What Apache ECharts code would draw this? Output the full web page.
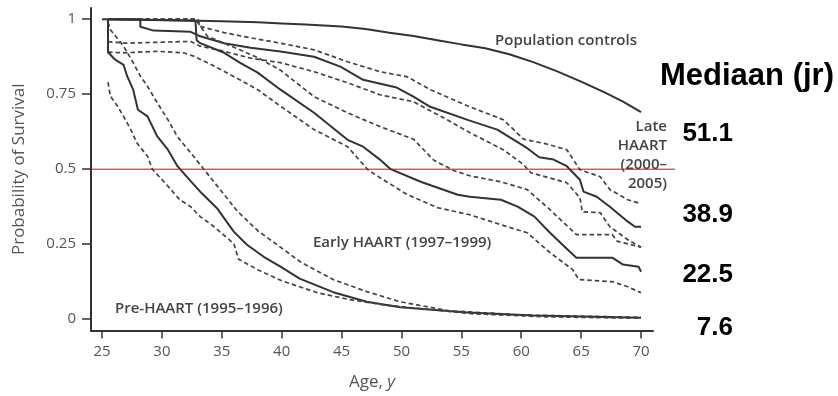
<!DOCTYPE html>
<html>
<head>
<meta charset="utf-8">
<script src="https://cdn.jsdelivr.net/npm/echarts@6/dist/echarts.min.js"></script>
<style>
html,body{margin:0;padding:0;background:#fff;}
#chart{width:838px;height:396px;}
</style>
</head>
<body>
<div id="chart"></div>
<script>
// ---- data (age in years, probability of survival) ----
const ageTicks = [25, 30, 35, 40, 45, 50, 55, 60, 65, 70];
const probTicks = [0, 0.25, 0.5, 0.75, 1];
const refLevel = 0.5;

const popControls = [[25,1.0],[30,0.997],[35,0.993],[38,0.99],[40,0.986],[42,0.982],[45,0.976],[47,0.967],[49,0.955],[51,0.944],[53,0.93],[55,0.916],[57,0.903],[59,0.883],[61,0.857],[63,0.826],[65,0.792],[67,0.755],[68.5,0.725],[70,0.69]];

const lateSolid = [[25.5,1.0],[28.2,1.0],[28.2,0.975],[29.3,0.962],[32.4,0.958],[33.2,0.943],[35.2,0.92],[37.4,0.905],[39.9,0.892],[42.7,0.875],[44.9,0.842],[46.8,0.798],[49.6,0.772],[51,0.742],[52.4,0.708],[55.7,0.662],[58,0.632],[60.5,0.57],[61.5,0.54],[62.7,0.532],[63.8,0.51],[64.9,0.465],[65.2,0.425],[66.3,0.408],[67.4,0.375],[68.9,0.325],[69.5,0.308],[70,0.308]];
const lateUpper = [[25.5,1.0],[33,1.0],[33.2,0.976],[35.2,0.955],[37.4,0.938],[39.9,0.92],[42.7,0.898],[45.5,0.858],[48.2,0.825],[50.5,0.808],[52.4,0.765],[55.7,0.708],[58.5,0.665],[60.2,0.6],[62,0.585],[63.8,0.565],[64.9,0.498],[66.6,0.475],[67.4,0.432],[68.9,0.398],[70,0.385]];
const lateLower = [[25.5,0.925],[27,0.92],[32.4,0.926],[33.2,0.91],[35.2,0.893],[37.4,0.87],[39.9,0.855],[42.7,0.825],[45.5,0.788],[48.2,0.748],[51,0.725],[53.8,0.665],[55.7,0.622],[58.5,0.565],[60.2,0.515],[60.8,0.488],[63.8,0.455],[64.9,0.405],[65.1,0.358],[66.6,0.355],[67.4,0.308],[68.9,0.265],[70,0.24]];

const earlySolid = [[25.5,1.0],[32.8,0.995],[32.9,0.93],[33.2,0.92],[35.2,0.888],[36.5,0.855],[38,0.822],[39.9,0.765],[42.7,0.688],[45.5,0.598],[46.8,0.575],[48.2,0.532],[49.1,0.5],[51.6,0.458],[54.7,0.415],[55.7,0.408],[58.3,0.398],[59.7,0.375],[61.1,0.342],[62.4,0.288],[63.6,0.242],[64.6,0.205],[67.6,0.205],[68.5,0.182],[69.8,0.175],[70,0.158]];
const earlyUpper = [[25.5,1.0],[32.8,1.0],[33.8,0.943],[35.2,0.92],[36.5,0.898],[38,0.872],[39.9,0.83],[42.7,0.742],[45.5,0.688],[48.2,0.642],[51,0.6],[52.7,0.53],[54.4,0.495],[55.7,0.478],[58.3,0.458],[60.5,0.432],[62.4,0.365],[64.6,0.282],[67.6,0.282],[68,0.26],[70,0.24]];
const earlyLower = [[25.5,0.89],[26.8,0.888],[29.6,0.893],[31.8,0.888],[32.7,0.876],[33.8,0.855],[35.2,0.826],[36.5,0.798],[38,0.765],[39.9,0.71],[42.7,0.632],[45.5,0.575],[47.2,0.498],[48.2,0.472],[50.5,0.415],[53,0.372],[55.7,0.348],[58.3,0.315],[60.5,0.288],[62.4,0.222],[64.3,0.165],[64.8,0.132],[67.6,0.125],[68.9,0.108],[70,0.088]];

const preSolid = [[25.5,1.0],[25.5,0.89],[26.1,0.865],[26.8,0.848],[27.1,0.81],[27.6,0.765],[28,0.698],[28.8,0.676],[29.6,0.61],[30.5,0.565],[31.3,0.51],[32.4,0.46],[33.2,0.425],[34.6,0.37],[35.4,0.325],[36,0.292],[37.1,0.248],[38.5,0.208],[39.9,0.175],[41.5,0.135],[44.3,0.09],[47.1,0.058],[49.9,0.04],[55.5,0.022],[61,0.012],[70,0.005]];
const preUpper = [[25.5,0.99],[25.7,0.965],[26.8,0.91],[27.6,0.855],[28.2,0.81],[28.8,0.776],[29.6,0.722],[30.5,0.665],[31.3,0.608],[32.4,0.555],[33.5,0.5],[34.9,0.43],[36.3,0.36],[38,0.295],[39.9,0.24],[41.6,0.19],[44.3,0.132],[47.1,0.092],[49.9,0.058],[54,0.028],[60,0.014],[70,0.006]];
const preLower = [[25.5,0.79],[25.7,0.743],[26.3,0.71],[26.8,0.676],[27.4,0.632],[27.9,0.588],[28.8,0.543],[29.2,0.5],[30.4,0.448],[31.5,0.398],[32.4,0.375],[33.2,0.342],[34.3,0.31],[36,0.252],[36.4,0.2],[38,0.165],[40,0.128],[43,0.088],[45.7,0.065],[48.5,0.048],[51.6,0.035],[56,0.018],[62,0.008],[70,0.003]];

const medianTitle = 'Mediaan (jr)';
const medianValues = ['51.1', '38.9', '22.5', '7.6'];

// ---- chart ----
const chart = echarts.init(document.getElementById('chart'), null, {renderer: 'canvas'});
const FONT = '"Open Sans", "DejaVu Sans", sans-serif';
const solidStyle = {color: '#333', width: 2, type: 'solid'};
const dashStyle = {color: '#444', width: 1.7, type: [4.5, 3]};

function curve(data, style) {
  return {type: 'line', xAxisIndex: 0, yAxisIndex: 0, data: data, showSymbol: false,
          symbol: 'none', lineStyle: style, silent: true, z: 2};
}

const annoText = (x, y, text, align) => ({
  type: 'text', x: x, y: y,
  style: {text: text, fill: '#444', font: '600 15px "Open Sans", sans-serif',
          textAlign: align || 'left', textVerticalAlign: 'middle'}
});
const bigText = (x, y, text, size, align) => ({
  type: 'text', x: x, y: y,
  style: {text: text, fill: '#000', font: 'bold ' + size + 'px "Liberation Sans", Arial, sans-serif',
          textAlign: align, textVerticalAlign: 'middle'}
});

chart.setOption({
  animation: false,
  backgroundColor: '#fff',
  grid: [
    {left: 91, top: 8, width: 562, height: 322.5, containLabel: false},
    {left: 91, top: 8, width: 584, height: 322.5, containLabel: false}
  ],
  xAxis: [
    {type: 'value', gridIndex: 0, min: 24.08, max: 71.0,
     name: 'Age, {i|y}', nameLocation: 'middle', nameGap: 43,
     nameTextStyle: {color: '#555', fontFamily: FONT, fontSize: 17,
       rich: {i: {fontStyle: 'italic', color: '#555', fontFamily: FONT, fontSize: 17}}},
     axisLine: {show: true, onZero: false, lineStyle: {color: '#333', width: 2}},
     axisTick: {show: true, length: 8, lineStyle: {color: '#333', width: 1.5}, customValues: ageTicks},
     axisLabel: {color: '#555', fontFamily: FONT, fontSize: 15, margin: 14, customValues: ageTicks},
     splitLine: {show: false}},
    {type: 'value', gridIndex: 1, min: 0, max: 1, show: false}
  ],
  yAxis: [
    {type: 'value', gridIndex: 0, min: -0.0377, max: 1.0373,
     name: 'Probability of Survival', nameLocation: 'middle', nameRotate: 90, nameGap: 63,
     nameTextStyle: {color: '#555', fontFamily: FONT, fontSize: 17},
     axisLine: {show: true, onZero: false, lineStyle: {color: '#333', width: 2}},
     axisTick: {show: true, length: 9, lineStyle: {color: '#333', width: 1.5}, customValues: probTicks},
     axisLabel: {color: '#555', fontFamily: FONT, fontSize: 15, margin: 15, customValues: probTicks,
                 formatter: v => String(v)},
     splitLine: {show: false}},
    {type: 'value', gridIndex: 1, min: -0.0377, max: 1.0373, show: false}
  ],
  series: [
    curve(popControls, solidStyle),
    curve(lateUpper, dashStyle), curve(lateSolid, solidStyle), curve(lateLower, dashStyle),
    curve(earlyUpper, dashStyle), curve(earlySolid, solidStyle), curve(earlyLower, dashStyle),
    curve(preUpper, dashStyle), curve(preSolid, solidStyle), curve(preLower, dashStyle),
    {type: 'line', xAxisIndex: 1, yAxisIndex: 1, data: [[0, refLevel], [1, refLevel]],
     showSymbol: false, symbol: 'none', silent: true, z: 5,
     lineStyle: {color: '#a8191b', width: 1}}
  ],
  graphic: [
    annoText(566, 41, 'Population controls', 'center'),
    annoText(667, 127, 'Late', 'right'),
    annoText(667, 146, 'HAART', 'right'),
    annoText(667, 165, '(2000–', 'right'),
    annoText(667, 184, '2005)', 'right'),
    annoText(313, 243, 'Early HAART (1997–1999)', 'left'),
    annoText(115, 309, 'Pre-HAART (1995–1996)', 'left'),
    bigText(660, 76, medianTitle, 31, 'left'),
    bigText(733, 134, medianValues[0], 26, 'right'),
    bigText(733, 215, medianValues[1], 26, 'right'),
    bigText(733, 275, medianValues[2], 26, 'right'),
    bigText(733, 328, medianValues[3], 26, 'right')
  ]
});
</script>
</body>
</html>
